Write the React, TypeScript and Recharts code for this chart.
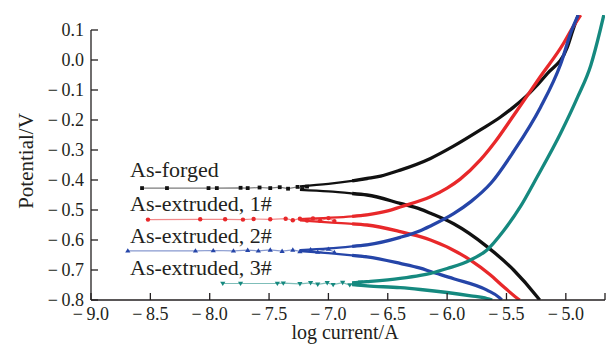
import React from 'react';
import { LineChart, Line, XAxis, YAxis, ReferenceLine } from 'recharts';

const FONT = "'Liberation Serif', 'Times New Roman', serif";
const INK = '#231f20';

const xTicks = [-9, -8.5, -8, -7.5, -7, -6.5, -6, -5.5, -5, -4.67];
const yTicks = [-0.8, -0.7, -0.6, -0.5, -0.4, -0.3, -0.2, -0.1, 0, 0.1];

const seriesNames = ['As-forged', 'As-extruded, 1#', 'As-extruded, 2#', 'As-extruded, 3#'];
const seriesColors = ['#111111', '#e8282a', '#2545a8', '#15897f'];

// As-forged
const forgedMarkX = [-8.57, -8.36, -8.01, -7.94, -7.74, -7.68, -7.58, -7.49, -7.41, -7.34, -7.26, -7.22, -7.18];
const forgedMarkY = [-0.427, -0.427, -0.427, -0.427, -0.426, -0.427, -0.425, -0.427, -0.424, -0.429, -0.423, -0.430, -0.422];
const forgedUpX = [-7.24, -7.0, -6.8, -6.675, -6.56, -6.395, -6.14, -5.95, -5.72, -5.55, -5.44, -5.3, -5.155, -4.99, -4.94, -4.895];
const forgedUpY = [-0.421, -0.413, -0.403, -0.395, -0.387, -0.367, -0.328, -0.288, -0.233, -0.19, -0.157, -0.108, -0.045, 0.04, 0.1, 0.15];
const forgedLowX = [-7.24, -7.0, -6.8, -6.675, -6.395, -6.226, -6.14, -5.945, -5.664, -5.44, -5.242, -5.22];
const forgedLowY = [-0.433, -0.438, -0.445, -0.45, -0.478, -0.497, -0.511, -0.546, -0.622, -0.7, -0.789, -0.8];

// As-extruded, 1#
const ext1MarkX = [-8.52, -8.08, -7.87, -7.72, -7.63, -7.49, -7.36, -7.3, -7.24, -7.18, -7.13, -7.07, -7.0, -6.95];
const ext1MarkY = [-0.532, -0.531, -0.531, -0.532, -0.53, -0.531, -0.529, -0.534, -0.529, -0.535, -0.528, -0.536, -0.527, -0.537];
const ext1UpX = [-7.24, -7.0, -6.8, -6.675, -6.5, -6.395, -6.14, -6.0, -5.89, -5.72, -5.6, -5.44, -5.214, -5.02, -4.955, -4.875];
const ext1UpY = [-0.53, -0.526, -0.521, -0.516, -0.503, -0.49, -0.456, -0.427, -0.397, -0.333, -0.275, -0.185, -0.055, 0.055, 0.1, 0.15];
const ext1LowX = [-7.24, -7.0, -6.8, -6.675, -6.395, -6.226, -6.14, -5.804, -5.64, -5.524, -5.41, -5.39];
const ext1LowY = [-0.535, -0.541, -0.546, -0.55, -0.572, -0.589, -0.6, -0.667, -0.715, -0.756, -0.794, -0.8];

// As-extruded, 2#
const ext2MarkX = [-8.69, -8.12, -7.97, -7.8, -7.68, -7.59, -7.49, -7.39, -7.3, -7.24, -7.15, -7.09, -7.0, -6.95];
const ext2MarkY = [-0.636, -0.636, -0.635, -0.636, -0.634, -0.636, -0.633, -0.637, -0.633, -0.638, -0.632, -0.64, -0.63, -0.641];
const ext2UpX = [-7.24, -7.0, -6.8, -6.675, -6.395, -6.226, -6.14, -5.945, -5.8, -5.63, -5.44, -5.214, -5.045, -4.95, -4.895];
const ext2UpY = [-0.634, -0.628, -0.621, -0.616, -0.591, -0.569, -0.553, -0.512, -0.472, -0.41, -0.305, -0.158, -0.015, 0.1, 0.15];
const ext2LowX = [-7.24, -7.0, -6.8, -6.675, -6.395, -6.226, -6.14, -5.945, -5.664, -5.56, -5.54];
const ext2LowY = [-0.637, -0.644, -0.651, -0.656, -0.678, -0.694, -0.705, -0.729, -0.767, -0.792, -0.8];

// As-extruded, 3#
const ext3MarkX = [-7.89, -7.74, -7.43, -7.38, -7.24, -7.15, -7.09, -7.01, -6.96, -6.88, -6.82, -6.73];
const ext3MarkY = [-0.745, -0.745, -0.745, -0.744, -0.746, -0.743, -0.748, -0.743, -0.749, -0.742, -0.75, -0.741];
const ext3UpX = [-6.8, -6.675, -6.395, -6.226, -6.14, -6.0, -5.804, -5.664, -5.524, -5.383, -5.242, -5.045, -4.9, -4.79, -4.71, -4.68];
const ext3UpY = [-0.743, -0.739, -0.728, -0.718, -0.711, -0.695, -0.667, -0.633, -0.569, -0.489, -0.39, -0.245, -0.123, -0.018, 0.1, 0.15];
const ext3LowX = [-6.8, -6.675, -6.395, -6.226, -6.0, -5.8, -5.664, -5.62];
const ext3LowY = [-0.749, -0.753, -0.759, -0.765, -0.775, -0.786, -0.795, -0.8];

const SPLIT = -6.75;

const zip = (xs: number[], ys: number[]) => xs.map((x, i) => ({ x, y: ys[i] }));
const thinPart = (pts: { x: number; y: number }[]) => pts.filter((p) => p.x <= SPLIT + 0.1);
const thickPart = (pts: { x: number; y: number }[]) => {
  const idx = pts.findIndex((p) => p.x >= SPLIT);
  return pts.slice(Math.max(0, idx - 1));
};

const fmt = (v: number) => {
  if (v === -4.67) return '';
  const s = Math.abs(v).toFixed(1);
  return v < 0 ? '\u2212\u2009' + s : s;
};

const textStyle = (size: number) => ({ fontFamily: FONT, fontSize: size, fill: INK });

const XTick = (props: any) => {
  const { x, y, payload } = props;
  const axisY = y - 7;
  const label = fmt(payload.value);
  return (
    <g>
      <line x1={x} x2={x} y1={axisY} y2={axisY - 7} stroke={INK} strokeWidth={1.3} />
      {label ? (
        <text x={x} y={y} dy="0.71em" textAnchor="middle" style={textStyle(18)}>
          {label}
        </text>
      ) : null}
    </g>
  );
};

const YTick = (props: any) => {
  const { x, y, payload } = props;
  const axisX = x + 7;
  return (
    <g>
      <line x1={axisX} x2={axisX + 7} y1={y} y2={y} stroke={INK} strokeWidth={1.3} />
      <text x={x} y={y} dy="0.355em" textAnchor="end" style={textStyle(18)}>
        {fmt(payload.value)}
      </text>
    </g>
  );
};

const makeDot = (shape: string, color: string) => (props: any) => {
  const { cx, cy, index } = props;
  if (cx == null || cy == null) return <g key={index} />;
  if (shape === 'circle') return <circle key={index} cx={cx} cy={cy} r={2.2} fill={color} />;
  if (shape === 'square') return <rect key={index} x={cx - 1.9} y={cy - 1.9} width={3.8} height={3.8} fill={color} />;
  if (shape === 'up')
    return <polygon key={index} points={`${cx},${cy - 2.6} ${cx - 2.6},${cy + 1.8} ${cx + 2.6},${cy + 1.8}`} fill={color} />;
  return <polygon key={index} points={`${cx},${cy + 2.6} ${cx - 2.6},${cy - 1.8} ${cx + 2.6},${cy - 1.8}`} fill={color} />;
};

const groups = [
  { mark: zip(forgedMarkX, forgedMarkY), up: zip(forgedUpX, forgedUpY), low: zip(forgedLowX, forgedLowY), shape: 'square' },
  { mark: zip(ext1MarkX, ext1MarkY), up: zip(ext1UpX, ext1UpY), low: zip(ext1LowX, ext1LowY), shape: 'circle' },
  { mark: zip(ext2MarkX, ext2MarkY), up: zip(ext2UpX, ext2UpY), low: zip(ext2LowX, ext2LowY), shape: 'up' },
  { mark: zip(ext3MarkX, ext3MarkY), up: zip(ext3UpX, ext3UpY), low: zip(ext3LowX, ext3LowY), shape: 'down' },
];

const labelPos = [
  { x: 130, y: 177 },
  { x: 130, y: 211 },
  { x: 130, y: 243 },
  { x: 130, y: 275 },
];

export default function App() {
  const branches: any[] = [];
  groups.forEach((g, i) => {
    [g.low, g.up].forEach((b, j) => {
      const thin = thinPart(b);
      if (thin.length > 1) branches.push({ key: `t${i}${j}`, data: thin, color: seriesColors[i], w: 2.2 });
      branches.push({ key: `k${i}${j}`, data: thickPart(b), color: seriesColors[i], w: 3.3 });
    });
  });
  return (
    <div style={{ position: 'absolute', left: 0, top: 0, background: '#fff' }}>
      <LineChart width={606} height={345} margin={{ top: 15, right: 1, bottom: 0, left: 0 }}>
        <XAxis
          dataKey="x"
          type="number"
          domain={[-9, -4.67]}
          ticks={xTicks}
          allowDataOverflow
          height={45}
          tickSize={5}
          tickMargin={2}
          tickLine={false}
          tick={<XTick />}
          axisLine={{ stroke: INK, strokeWidth: 1.3 }}
          interval={0}
          label={{
            content: (p: any) => {
              const vb = p.viewBox || { x: 91, y: 300, width: 514 };
              return (
                <text x={vb.x + vb.width / 2 - 3} y={vb.y + 39} textAnchor="middle" style={textStyle(20)}>
                  log current/A
                </text>
              );
            },
          }}
        />
        <YAxis
          dataKey="y"
          type="number"
          domain={[-0.8, 0.15]}
          ticks={yTicks}
          allowDataOverflow
          width={91}
          tickSize={5}
          tickMargin={2}
          tickLine={false}
          tick={<YTick />}
          axisLine={false}
          interval={0}
          label={{
            content: () => (
              <text x={33} y={161} transform="rotate(-90, 33, 161)" textAnchor="middle" style={textStyle(21)}>
                Potential/V
              </text>
            ),
          }}
        />
        <ReferenceLine
          segment={[
            { x: -9, y: -0.8 },
            { x: -9, y: 0.1 },
          ]}
          stroke={INK}
          strokeWidth={1.3}
        />
        {groups.map((g, i) => (
          <Line
            key={'m' + i}
            data={g.mark}
            dataKey="y"
            type="linear"
            stroke={seriesColors[i]}
            strokeOpacity={0.55}
            strokeWidth={1.2}
            dot={makeDot(g.shape, seriesColors[i])}
            activeDot={false}
            isAnimationActive={false}
          />
        ))}
        {branches.map((b) => (
          <Line
            key={b.key}
            data={b.data}
            dataKey="y"
            type="monotone"
            stroke={b.color}
            strokeWidth={b.w}
            dot={false}
            activeDot={false}
            isAnimationActive={false}
          />
        ))}
        {seriesNames.map((n, i) => (
          <text key={'t' + i} x={labelPos[i].x} y={labelPos[i].y} style={textStyle(22)}>
            {n}
          </text>
        ))}
      </LineChart>
    </div>
  );
}
